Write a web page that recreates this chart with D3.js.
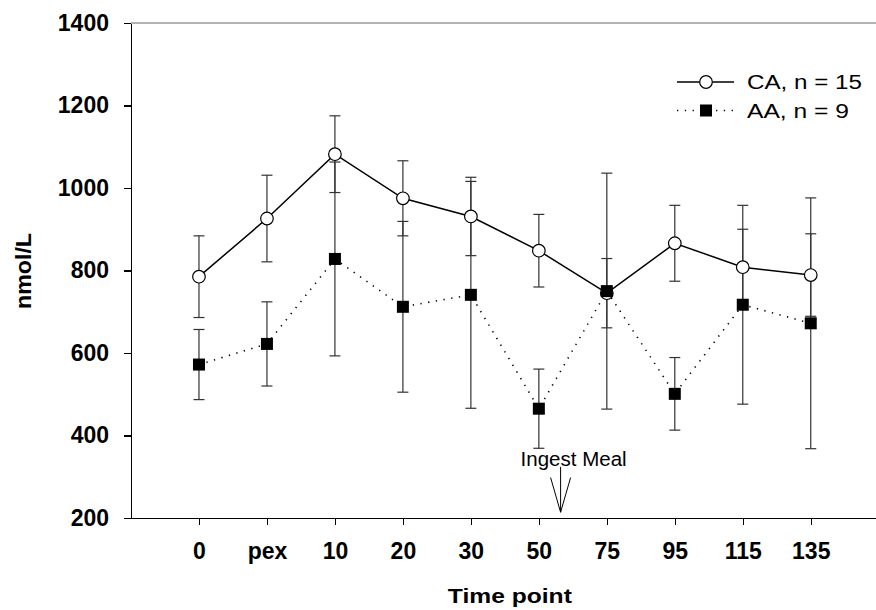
<!DOCTYPE html>
<meta charset="utf-8">
<style>
body { margin: 0; background: #fff; font-family: "Liberation Sans", Arial, sans-serif; }
.axis path, .axis line { fill: none; stroke: #000; stroke-width: 1.4; shape-rendering: crispEdges; }
.axis text { font-family: "Liberation Sans", Arial, sans-serif; font-weight: bold; font-size: 23px; fill: #000; }
.err { stroke: #333; stroke-width: 1.2; fill: none; }
</style>
<script src="https://d3js.org/d3.v7.min.js"></script>
<body>
<div id="chart"></div>
<script>
// time points and group values (nmol/L, mean and SE)
var timePoints = ["0", "pex", "10", "20", "30", "50", "75", "95", "115", "135"];
var caMean = [785, 926, 1082, 975, 931, 848, 745, 866, 808, 789];
var caSE   = [99, 105, 93, 91, 95, 88, 84, 92, 92, 100];
var aaMean = [572, 622, 828, 712, 741, 465, 750, 501, 717, 672];
var aaSE   = [85, 102, 235, 207, 275, 96, 286, 88, 241, 304];
var yTicks = [200, 400, 600, 800, 1000, 1200, 1400];

// meal annotation (x in time-point index units, y in nmol/L)
var mealX = 5.32, mealTop = 324, mealHead = 298, mealTip = 214;

var W = 876, H = 610;
var margin = {top: 23, right: 0, bottom: 92, left: 131};

var svg = d3.select("#chart").append("svg")
    .attr("width", W).attr("height", H);

var x = d3.scaleLinear().domain([-1, 9.96]).range([margin.left, W - margin.right]);
var y = d3.scaleLinear().domain([200, 1400]).range([H - margin.bottom, margin.top]);

var ca = timePoints.map(function(t, i) { return {i: i, m: caMean[i], se: caSE[i]}; });
var aa = timePoints.map(function(t, i) { return {i: i, m: aaMean[i], se: aaSE[i]}; });

// top frame line
svg.append("line")
  .attr("x1", x(-1)).attr("x2", x(9.96))
  .attr("y1", y(1400)).attr("y2", y(1400))
  .attr("stroke", "#666").attr("stroke-width", 1);

// y axis
var yAxis = svg.append("g").attr("class", "axis")
  .attr("transform", "translate(" + margin.left + ",0)")
  .call(d3.axisLeft(y).tickValues(yTicks).tickSize(7).tickSizeOuter(0).tickPadding(15)
    .tickFormat(d3.format("d")));

// x axis
var xAxis = svg.append("g").attr("class", "axis")
  .attr("transform", "translate(0," + y(200) + ")")
  .call(d3.axisBottom(x).tickValues(d3.range(timePoints.length)).tickSize(7).tickSizeOuter(0)
    .tickFormat(function(d) { return timePoints[d]; }));
xAxis.selectAll("text").attr("y", 41).attr("dy", null);

// axis titles
svg.append("text")
  .attr("x", x(4.5) + 5).attr("y", 603)
  .attr("text-anchor", "middle")
  .attr("font-weight", "bold").attr("font-size", 20)
  .attr("textLength", 124).attr("lengthAdjust", "spacingAndGlyphs")
  .text("Time point");

svg.append("text")
  .attr("transform", "translate(31,271) rotate(-90)")
  .attr("text-anchor", "middle")
  .attr("font-weight", "bold").attr("font-size", 22)
  .attr("textLength", 76).attr("lengthAdjust", "spacingAndGlyphs")
  .text("nmol/L");

// error bars
function errorBars(data, cls) {
  var g = svg.append("g").attr("class", cls);
  data.forEach(function(d) {
    var cx = x(d.i), hi = y(d.m + d.se), lo = y(d.m - d.se);
    g.append("line").attr("class", "err").attr("x1", cx).attr("x2", cx).attr("y1", hi).attr("y2", lo);
    g.append("line").attr("class", "err").attr("x1", cx - 5.5).attr("x2", cx + 5.5).attr("y1", hi).attr("y2", hi);
    g.append("line").attr("class", "err").attr("x1", cx - 5.5).attr("x2", cx + 5.5).attr("y1", lo).attr("y2", lo);
  });
}
errorBars(ca, "caErr");
errorBars(aa, "aaErr");

var line = d3.line()
  .x(function(d) { return x(d.i); })
  .y(function(d) { return y(d.m); });

svg.append("path").datum(ca)
  .attr("d", line)
  .attr("fill", "none").attr("stroke", "#000").attr("stroke-width", 1.5);

svg.append("path").datum(aa)
  .attr("d", line)
  .attr("fill", "none").attr("stroke", "#000").attr("stroke-width", 1.6)
  .attr("stroke-dasharray", "1.3,6.5");

svg.selectAll("circle.ca").data(ca).enter().append("circle")
  .attr("class", "ca")
  .attr("cx", function(d) { return x(d.i); })
  .attr("cy", function(d) { return y(d.m); })
  .attr("r", 6.3)
  .attr("fill", "#fff").attr("stroke", "#000").attr("stroke-width", 1.2);

svg.selectAll("rect.aa").data(aa).enter().append("rect")
  .attr("class", "aa")
  .attr("x", function(d) { return x(d.i) - 6; })
  .attr("y", function(d) { return y(d.m) - 6; })
  .attr("width", 12).attr("height", 12)
  .attr("fill", "#000");

// meal annotation
var mx = x(mealX);
svg.append("text")
  .attr("x", mx + 13).attr("y", y(mealTop) - 1)
  .attr("text-anchor", "middle").attr("font-size", 20)
  .attr("textLength", 106).attr("lengthAdjust", "spacingAndGlyphs")
  .text("Ingest Meal");
svg.append("line").attr("x1", mx).attr("x2", mx).attr("y1", y(mealTop)).attr("y2", y(mealTip))
  .attr("stroke", "#000").attr("stroke-width", 1);
svg.append("path")
  .attr("d", "M" + (mx - 10) + "," + y(mealHead) + "L" + mx + "," + y(mealTip) + "L" + (mx + 10) + "," + y(mealHead))
  .attr("fill", "none").attr("stroke", "#000").attr("stroke-width", 1);

// legend
var leg = svg.append("g").attr("transform", "translate(677,82)");
leg.append("line").attr("x1", 0).attr("x2", 57).attr("y1", 0).attr("y2", 0)
  .attr("stroke", "#000").attr("stroke-width", 1.5);
leg.append("circle").attr("cx", 29).attr("cy", 0).attr("r", 6.3)
  .attr("fill", "#fff").attr("stroke", "#000").attr("stroke-width", 1.2);
leg.append("text").attr("x", 70).attr("y", 7).attr("font-size", 20)
  .attr("textLength", 115).attr("lengthAdjust", "spacingAndGlyphs")
  .text("CA, n = 15");
leg.append("line").attr("x1", 0).attr("x2", 57).attr("y1", 28.5).attr("y2", 28.5)
  .attr("stroke", "#000").attr("stroke-width", 1.6).attr("stroke-dasharray", "1.3,6.5");
leg.append("rect").attr("x", 23).attr("y", 22.5).attr("width", 12).attr("height", 12).attr("fill", "#000");
leg.append("text").attr("x", 70).attr("y", 35.5).attr("font-size", 20)
  .attr("textLength", 102).attr("lengthAdjust", "spacingAndGlyphs")
  .text("AA, n = 9");
</script>
</body>
